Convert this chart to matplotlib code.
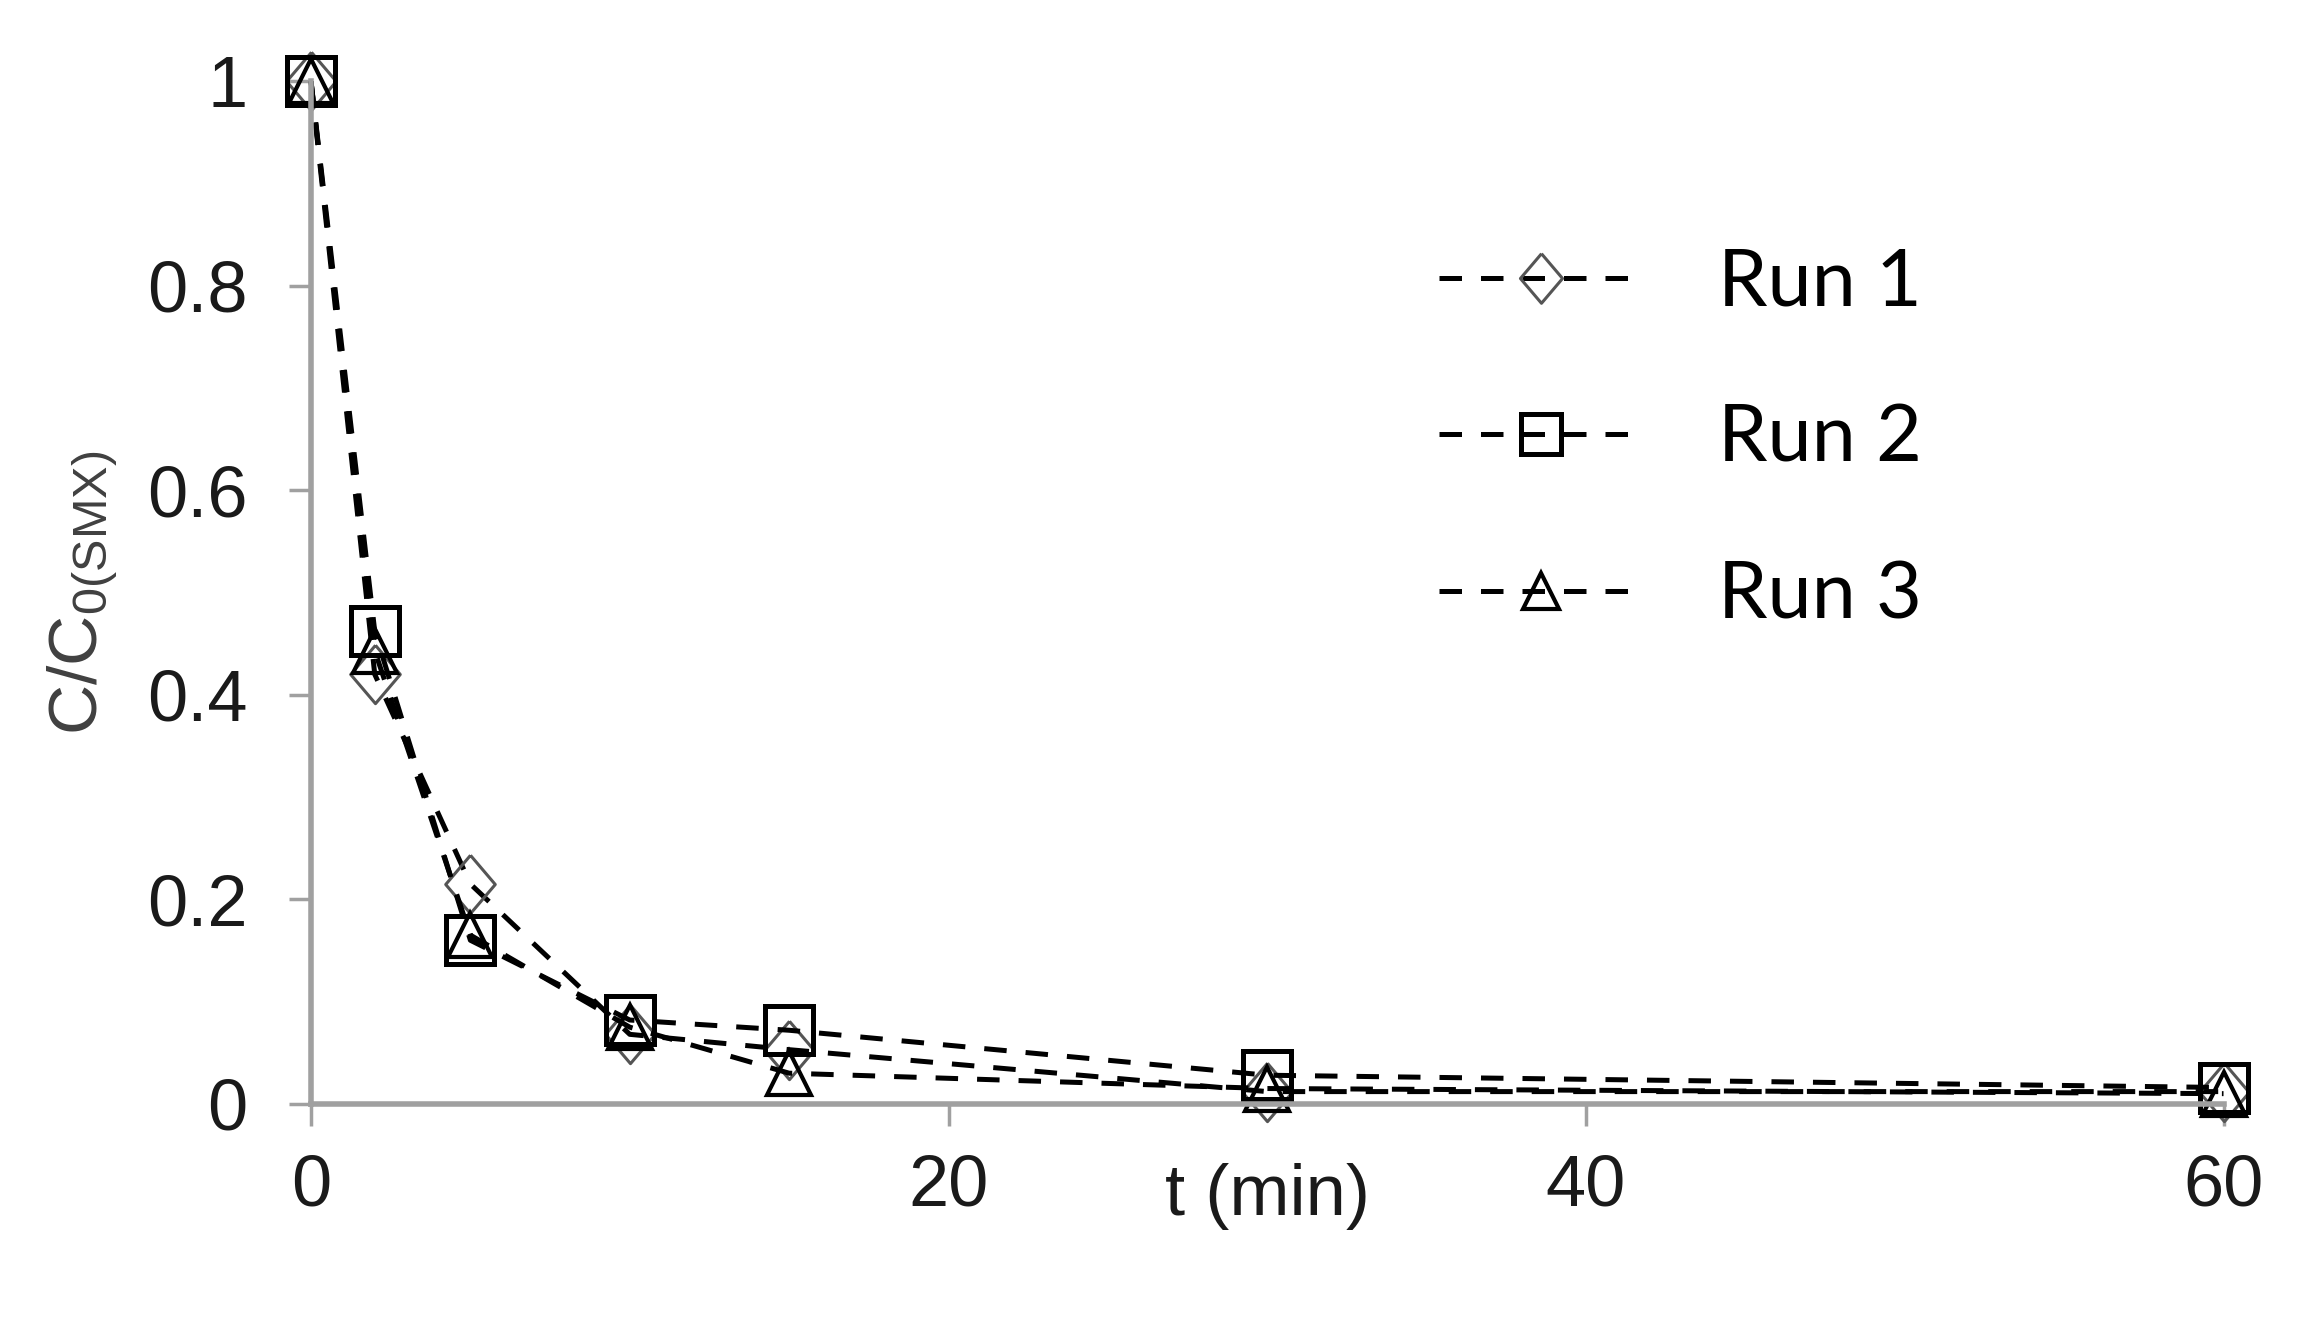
import matplotlib
matplotlib.use("Agg")
import matplotlib.pyplot as plt

# data
t_min = [0, 2, 5, 10, 15, 30, 60]
run1 = [1.0, 0.42, 0.215, 0.068, 0.053, 0.012, 0.012]
run2 = [1.0, 0.462, 0.16, 0.082, 0.072, 0.028, 0.016]
run3 = [1.0, 0.443, 0.165, 0.075, 0.03, 0.015, 0.01]

x_ticks = [0, 20, 40, 60]
y_ticks = [0, 0.2, 0.4, 0.6, 0.8, 1.0]
y_tick_labels = ["0", "0.2", "0.4", "0.6", "0.8", "1"]
series_names = ["Run 1", "Run 2", "Run 3"]

plt.rcParams["font.family"] = ["Liberation Sans", "DejaVu Sans"]
plt.rcParams["mathtext.default"] = "regular"

fig = plt.figure(figsize=(23.21, 13.22), dpi=100)
ax = fig.add_axes([0.134, 0.165, 0.824, 0.7735])

axis_grey = "#a0a0a0"
dash = (4.5, 3.8)
tall_diamond = [(0, 1), (0.85, 0), (0, -1), (-0.85, 0), (0, 1)]

ax.plot(t_min, run1, color="black", lw=3.6, dashes=dash, marker=tall_diamond,
        ms=42, mfc="none", mec="#555555", mew=2.2, clip_on=False,
        label=series_names[0])
ax.plot(t_min, run2, color="black", lw=3.6, dashes=dash, marker="s",
        ms=34, mfc="none", mec="black", mew=3.6, clip_on=False,
        label=series_names[1])
ax.plot(t_min, run3, color="black", lw=3.6, dashes=dash, marker="^",
        ms=31, mfc="none", mec="black", mew=3, clip_on=False,
        label=series_names[2])

ax.set_xlim(0, 60)
ax.set_ylim(0, 1)
ax.set_xticks(x_ticks)
ax.set_yticks(y_ticks)
ax.set_yticklabels(y_tick_labels)

for side in ["top", "right"]:
    ax.spines[side].set_visible(False)
for side in ["left", "bottom"]:
    ax.spines[side].set_color(axis_grey)
    ax.spines[side].set_linewidth(4)

ax.tick_params(axis="both", direction="out", length=16, width=2.5,
               color=axis_grey, labelsize=52, labelcolor="#1a1a1a")
ax.tick_params(axis="y", pad=30)
ax.tick_params(axis="x", pad=20)

ax.set_xlabel("t (min)", fontsize=52, color="#1a1a1a")
ax.xaxis.set_label_coords(0.5, -0.058)
ax.set_ylabel("C/C$_{0(SMX)}$", fontsize=50, color="#404040")
ax.yaxis.set_label_coords(-0.100, 0.5)

ax.legend(loc="upper left", bbox_to_anchor=(0.62, 0.813),
          bbox_transform=fig.transFigure, frameon=False, borderpad=0,
          borderaxespad=0, handlelength=2.58, handletextpad=0.94,
          labelspacing=1.07, markerscale=0.85,
          prop={"family": ["Lato", "DejaVu Sans"], "size": 57})

fig.savefig("out.png", dpi=100)
